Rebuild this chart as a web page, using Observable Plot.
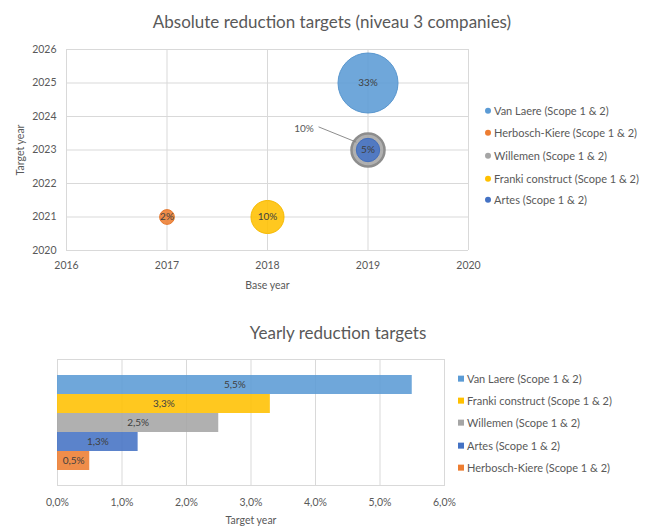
<!DOCTYPE html>
<html>
<head>
<meta charset="utf-8">
<script src="https://cdn.jsdelivr.net/npm/d3@7"></script>
<script src="https://cdn.jsdelivr.net/npm/@observablehq/plot@0.6"></script>
<style>
  html, body { margin: 0; padding: 0; background: #ffffff; }
  body { font-family: Lato, "Open Sans", sans-serif; }
  #wrap { position: relative; width: 655px; height: 527px; overflow: hidden; background: #fff; }
  .title { position: absolute; font-size: 17px; color: #595959; white-space: nowrap; transform: translate(-50%, -50%); line-height: 1; }
  .chart { position: absolute; }
  .legend-item { position: absolute; font-size: 11px; color: #595959; white-space: nowrap; line-height: 1; transform: translateY(-50%); }
  .legend-item .sw { display: inline-block; vertical-align: middle; margin-right: 3px; }
  .legend-item span.t { vertical-align: middle; }
</style>
</head>
<body>
<div id="wrap"></div>
<script>
// ---------- data ----------
const companies = [
  "Van Laere (Scope 1 & 2)",
  "Herbosch-Kiere (Scope 1 & 2)",
  "Willemen (Scope 1 & 2)",
  "Franki construct (Scope 1 & 2)",
  "Artes (Scope 1 & 2)"
];
const companyColors = ["#5B9BD5", "#ED7D31", "#A5A5A5", "#FFC000", "#4472C4"];
const baseYear = [2019, 2017, 2019, 2018, 2019];
const targetYear = [2025, 2021, 2023, 2021, 2023];
const absoluteTarget = [33, 2, 10, 10, 5]; // percent
const calloutCompany = "Willemen (Scope 1 & 2)";

const yearlyCompanies = [
  "Van Laere (Scope 1 & 2)",
  "Franki construct (Scope 1 & 2)",
  "Willemen (Scope 1 & 2)",
  "Artes (Scope 1 & 2)",
  "Herbosch-Kiere (Scope 1 & 2)"
];
const yearlyTarget = [5.5, 3.3, 2.5, 1.25, 0.5]; // percent per year

const baseYearTicks = [2016, 2017, 2018, 2019, 2020];
const targetYearTicks = [2020, 2021, 2022, 2023, 2024, 2025, 2026];
const yearlyTicks = [0, 1, 2, 3, 4, 5, 6];

const topTitle = "Absolute reduction targets (niveau 3 companies)";
const bottomTitle = "Yearly reduction targets";

// ---------- helpers ----------
const wrap = document.getElementById("wrap");
const colorOf = name => companyColors[companies.indexOf(name)];
const pct = v => v.toFixed(1).replace(".", ",") + "%";
const gridColor = "#D9D9D9";
const textColor = "#595959";
const labelColor = "#404040";
const fontFamily = "Lato, 'Open Sans', sans-serif";

function place(el, left, top) {
  el.style.left = left + "px";
  el.style.top = top + "px";
  wrap.appendChild(el);
}
function addTitle(text, cx, cy) {
  const d = document.createElement("div");
  d.className = "title";
  d.textContent = text;
  place(d, cx, cy);
}
function addLegend(items, x, ys, shape) {
  items.forEach((name, i) => {
    const d = document.createElement("div");
    d.className = "legend-item";
    const sw = document.createElement("span");
    sw.className = "sw";
    sw.style.width = "6px";
    sw.style.height = "6px";
    sw.style.background = colorOf(name);
    if (shape === "circle") sw.style.borderRadius = "50%";
    const t = document.createElement("span");
    t.className = "t";
    t.textContent = name;
    d.appendChild(sw);
    d.appendChild(t);
    place(d, x, ys[i]);
  });
}

// ---------- top: bubble chart ----------
const bubbles = companies.map((c, i) => ({
  company: c, base: baseYear[i], target: targetYear[i], value: absoluteTarget[i]
}));

const topChart = Plot.plot({
  width: 480,
  height: 300,
  marginLeft: 66,
  marginRight: 12,
  marginTop: 49,
  marginBottom: 50,
  style: { fontFamily, fontSize: "10.5px", color: textColor, background: "transparent", overflow: "visible" },
  x: { domain: [2016, 2020] },
  y: { domain: [2020, 2026] },
  r: { type: "sqrt", domain: [0, 33], range: [0, 30] },
  color: { domain: companies, range: companyColors },
  marks: [
    Plot.gridX(baseYearTicks, { stroke: gridColor, strokeOpacity: 1, strokeWidth: 1 }),
    Plot.gridY(targetYearTicks, { stroke: gridColor, strokeOpacity: 1, strokeWidth: 1 }),
    Plot.axisX({
      ticks: baseYearTicks, tickSize: 0, tickPadding: 11, tickFormat: d => String(d),
      fill: textColor, label: "Base year", labelAnchor: "center", labelArrow: "none", labelOffset: 38
    }),
    Plot.axisY({
      ticks: targetYearTicks, tickSize: 0, tickPadding: 10, tickFormat: d => String(d),
      fill: textColor, label: "Target year", labelAnchor: "center", labelArrow: "none", labelOffset: 50
    }),
    Plot.dot(bubbles, {
      x: "base", y: "target", r: "value",
      fill: "company", fillOpacity: 0.88,
      stroke: d => d3.color(colorOf(d.company)).darker(d.company === calloutCompany ? 0.45 : 0.1).formatHex(),
      strokeWidth: d => d.company === calloutCompany ? 2.5 : 1
    }),
    Plot.text(bubbles.filter(d => d.company !== calloutCompany), {
      x: "base", y: "target", text: d => d.value + "%", fill: labelColor, fontSize: 10
    }),
    Plot.text(bubbles.filter(d => d.company === calloutCompany), {
      x: "base", y: "target", text: d => d.value + "%", fill: textColor, fontSize: 10,
      dx: -64, dy: -21
    }),
    Plot.vector(bubbles.filter(d => d.company === calloutCompany), {
      x: "base", y: "target", anchor: "start",
      length: 40, rotate: 292, dx: -12, dy: -8,
      stroke: "#7F7F7F", strokeWidth: 0.8,
      shape: { draw(context, l) { context.moveTo(0, 0); context.lineTo(0, -l); } }
    })
  ]
});
topChart.classList.add("chart");
place(topChart, 0, 0);
addTitle(topTitle, 332, 21);
addLegend(companies, 485, [110, 132, 155, 178, 199], "circle");

// ---------- bottom: yearly bar chart ----------
const bars = yearlyCompanies.map((c, i) => ({ company: c, value: yearlyTarget[i] }));

const bottomChart = Plot.plot({
  width: 455,
  height: 187,
  marginLeft: 57,
  marginRight: 11,
  marginTop: 19,
  marginBottom: 42,
  style: { fontFamily, fontSize: "10.5px", color: textColor, background: "transparent", overflow: "visible" },
  x: { domain: [0, 6] },
  y: { domain: yearlyCompanies, padding: 0, insetTop: 15, insetBottom: 14, axis: null },
  color: { domain: companies, range: companyColors },
  marks: [
    Plot.gridX(yearlyTicks, { stroke: gridColor, strokeOpacity: 1, strokeWidth: 1 }),
    Plot.frame({ stroke: gridColor, strokeWidth: 1 }),
    Plot.barX(bars, { x: "value", y: "company", fill: "company", fillOpacity: 0.88 }),
    Plot.text(bars, {
      x: d => d.value / 2, y: "company", text: d => pct(d.value), fill: labelColor, fontSize: 10
    }),
    Plot.axisX({
      ticks: yearlyTicks, tickSize: 0, tickPadding: 13, tickFormat: pct,
      fill: textColor, label: "Target year", labelAnchor: "center", labelArrow: "none", labelOffset: 38
    })
  ]
});
bottomChart.classList.add("chart");
place(bottomChart, 0, 340);
addTitle(bottomTitle, 338, 332);
addLegend(yearlyCompanies, 458, [378, 400, 422, 445, 467], "square");
</script>
</body>
</html>
